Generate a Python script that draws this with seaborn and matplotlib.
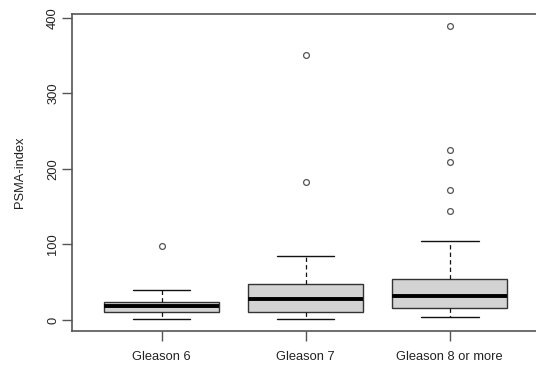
import numpy as np
import pandas as pd
import matplotlib
matplotlib.use("Agg")
import matplotlib.pyplot as plt
import seaborn as sns

# Values
categories = ["Gleason 6", "Gleason 7", "Gleason 8 or more"]
lower_whisker = [1.3, 1.3, 4.4]
q1 = [10.2, 11.0, 15.5]
median = [19.0, 27.8, 32.2]
q3 = [23.4, 48.0, 54.3]
upper_whisker = [39.7, 84.3, 104.6]
outliers = [
    [98.4],
    [183.0, 350.0],
    [144.8, 172.0, 209.7, 225.5, 389.0],
]
y_ticks = [0, 100, 200, 300, 400]

# Build observations whose quartiles equal the read-off statistics
rows = []
for cat, lw, a, m, b, uw, outs in zip(categories, lower_whisker, q1, median, q3,
                                      upper_whisker, outliers):
    k = len(outs) + 1
    vals = [lw] + [a] * k + [m] * k + [b] * k + [uw] + list(outs)
    rows += [(cat, v) for v in vals]
df = pd.DataFrame(rows, columns=["group", "value"])

sns.set_theme(style="white")
plt.rcParams["font.family"] = ["Liberation Sans", "DejaVu Sans"]

fig = plt.figure(figsize=(5.36, 3.68), dpi=100)
ax = fig.add_axes([72.3 / 536, 37 / 368, 466.7 / 536, 316.7 / 368])

sns.boxplot(
    data=df, x="group", y="value", order=categories, ax=ax,
    color="#D3D3D3", saturation=1, width=0.8, linecolor="#111111",
    linewidth=1.0, whis=1.5,
    whiskerprops=dict(linestyle=(0, (3.5, 2.5)), linewidth=0.9, color="#111111"),
    capprops=dict(linewidth=1.0, color="#111111"),
    medianprops=dict(linewidth=2.8, color="black"),
    boxprops=dict(edgecolor="#333333", linewidth=1.0),
    flierprops=dict(marker="o", markerfacecolor="none", markeredgecolor="#555555",
                    markersize=4.2, markeredgewidth=0.9),
)

ax.set_xlim(-0.62, 2.62)
ax.set_ylim(-14.6, 404.5)
ax.set_yticks(y_ticks)
ax.set_yticklabels([str(t) for t in y_ticks])
ax.set_xlabel("")
ax.set_ylabel("PSMA-index", fontsize=9.3, color="#222222")
ax.yaxis.set_label_coords(-0.1002, 0.5)

for s in ["left", "bottom", "top"]:
    ax.spines[s].set_color("#555555")
    ax.spines[s].set_linewidth(1.2)
    ax.spines[s].set_visible(True)
ax.spines["right"].set_visible(False)

ax.tick_params(axis="both", which="major", length=7, width=1.0, color="#555555",
               labelsize=9.3, labelcolor="#222222", left=True, bottom=True)
ax.tick_params(axis="y", pad=2.5, labelrotation=90)
ax.tick_params(axis="x", pad=7.5)
for lab in ax.get_yticklabels():
    lab.set_va("center")

fig.savefig("out.png", dpi=100)
